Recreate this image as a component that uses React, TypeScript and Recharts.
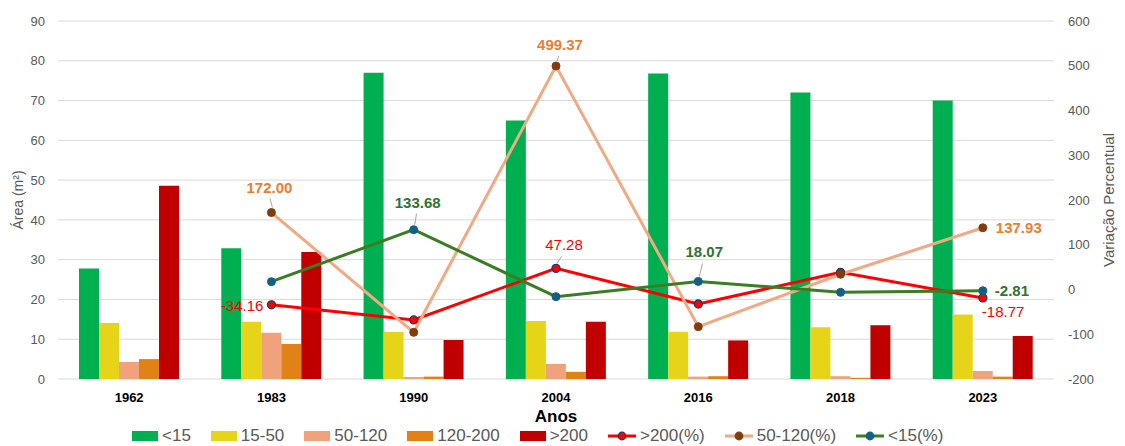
import { ComposedChart, Bar, Line, XAxis, YAxis, CartesianGrid, Legend, LabelList } from "recharts";

const years = ["1962", "1983", "1990", "2004", "2016", "2018", "2023"];

// área por classe (m²)
const areaLt15 = [27.8, 32.9, 77.0, 65.0, 76.8, 72.0, 70.0];
const area15to50 = [14.1, 14.4, 11.8, 14.6, 11.9, 13.0, 16.2];
const area50to120 = [4.3, 11.6, 0.5, 3.8, 0.6, 0.7, 2.0];
const area120to200 = [5.0, 8.8, 0.6, 1.8, 0.7, 0.3, 0.6];
const areaGt200 = [48.6, 31.9, 9.8, 14.4, 9.7, 13.5, 10.8];

// variação percentual face ao ano anterior
const pctGt200 = [null, -34.16, -68.0, 47.28, -32.4, 38.4, -18.77];
const pct50to120 = [null, 172.0, -95.7, 499.37, -83.0, 34.0, 137.93];
const pctLt15 = [null, 17.5, 133.68, -16.0, 18.07, -6.3, -2.81];

const leftTicks = [0, 10, 20, 30, 40, 50, 60, 70, 80, 90];
const rightTicks = [-200, -100, 0, 100, 200, 300, 400, 500, 600];

const data = years.map((year, i) => ({
  year,
  lt15: areaLt15[i],
  s15to50: area15to50[i],
  s50to120: area50to120[i],
  s120to200: area120to200[i],
  gt200: areaGt200[i],
  p200: pctGt200[i],
  p50: pct50to120[i],
  p15: pctLt15[i],
}));

const FONT = "'Liberation Sans', Arial, sans-serif";
const GRAY = "#595959";

const C = {
  lt15: "#00B050",
  s15to50: "#E5D418",
  s50to120: "#F0A27C",
  s120to200: "#E08216",
  gt200: "#C00000",
  p200: "#FF0000",
  p200Dot: "#1F3864",
  p50: "#F4A985",
  p50Dot: "#843C0C",
  p15: "#3A7D22",
  p15Dot: "#156082",
  lblOrange: "#ED7D31",
  lblGreen: "#2E7430",
};

type Place = { dx: number; dy: number; anchor: "start" | "middle" | "end"; leader?: boolean };

const labels200: Record<number, Place> = {
  1: { dx: -8, dy: 6, anchor: "end" },
  3: { dx: 8, dy: -18, anchor: "middle", leader: true },
  6: { dx: -1, dy: 19, anchor: "start" },
};
const labels50: Record<number, Place> = {
  1: { dx: -2, dy: -20, anchor: "middle", leader: true },
  3: { dx: 4, dy: -16, anchor: "middle", leader: true },
  6: { dx: 13, dy: 5, anchor: "start" },
};
const labels15: Record<number, Place> = {
  2: { dx: 4, dy: -22, anchor: "middle", leader: true },
  4: { dx: 6, dy: -24, anchor: "middle", leader: true },
  6: { dx: 12, dy: 5, anchor: "start" },
};

const pointLabel = (places: Record<number, Place>, color: string, bold: boolean) => (props: any) => {
  const { x, y, value, index } = props;
  const p = places[index];
  if (!p || value == null) return null;
  return (
    <g>
      {p.leader && (
        <line x1={x + p.dx * 0.7} y1={y + p.dy + 6} x2={x + 1} y2={y - 5} stroke="#A6A6A6" strokeWidth={1} />
      )}
      <text x={x + p.dx} y={y + p.dy} textAnchor={p.anchor} fill={color} fontSize={15} fontWeight={bold ? "bold" : "normal"} fontFamily={FONT}>
        {Number(value).toFixed(2)}
      </text>
    </g>
  );
};

const legendItems = [
  { name: "<15", color: C.lt15, type: "box" },
  { name: "15-50", color: C.s15to50, type: "box" },
  { name: "50-120", color: C.s50to120, type: "box" },
  { name: "120-200", color: C.s120to200, type: "box" },
  { name: ">200", color: C.gt200, type: "box" },
  { name: ">200(%)", color: C.p200, dot: C.p200, dotStroke: C.p200Dot, type: "line" },
  { name: "50-120(%)", color: C.p50, dot: C.p50Dot, dotStroke: C.p50Dot, type: "line" },
  { name: "<15(%)", color: C.p15, dot: C.p15Dot, dotStroke: C.p15Dot, type: "line" },
];

const renderLegend = () => (
  <div style={{ display: "flex", alignItems: "center", height: 20, paddingLeft: 132, fontFamily: FONT, fontSize: 17, color: GRAY }}>
    {legendItems.map((it) => (
      <div key={it.name} style={{ display: "flex", alignItems: "center", marginRight: 20 }}>
        {it.type === "box" ? (
          <div style={{ width: 26, height: 10, background: it.color, marginRight: 4 }} />
        ) : (
          <svg width={28} height={10} style={{ marginRight: 4 }}>
            <line x1={0} y1={5} x2={28} y2={5} stroke={it.color} strokeWidth={3} />
            <circle cx={14} cy={5} r={3.8} fill={it.dot} stroke={it.dotStroke} strokeWidth={1.2} />
          </svg>
        )}
        <span style={{ whiteSpace: "nowrap" }}>{it.name}</span>
      </div>
    ))}
  </div>
);

const leftTitle = (props: any) => {
  const { x, y, height } = props.viewBox;
  const cx = x + 1.5;
  const cy = y + height / 2;
  return (
    <text x={cx} y={cy} transform={`rotate(-90, ${cx}, ${cy})`} textAnchor="middle" dominantBaseline="central" fill={GRAY} fontSize={14} fontFamily={FONT}>
      Área (m²)
    </text>
  );
};

const rightTitle = (props: any) => {
  const { x, y, height } = props.viewBox;
  const cx = x + 54;
  const cy = y + height / 2;
  return (
    <text x={cx} y={cy} transform={`rotate(-90, ${cx}, ${cy})`} textAnchor="middle" dominantBaseline="central" fill={GRAY} fontSize={15} fontFamily={FONT}>
      Variação Percentual
    </text>
  );
};

export default function App() {
  return (
    <div style={{ position: "absolute", left: 0, top: 0, width: 1125, height: 446, background: "#fff", fontFamily: FONT }}>
      <ComposedChart width={1125} height={446} data={data} margin={{ top: 21, right: 20, bottom: 0, left: 16 }} barGap={0} barSize={20}>
        <CartesianGrid yAxisId="left" vertical={false} stroke="#D9D9D9" strokeWidth={1} />
        <XAxis
          dataKey="year"
          axisLine={false}
          tickLine={false}
          height={47}
          tickMargin={8}
          tick={{ fontSize: 13, fontWeight: "bold", fill: "#000", fontFamily: FONT }}
          label={{ value: "Anos", position: "insideBottom", offset: 4, fontSize: 17, fontWeight: "bold", fill: "#000", fontFamily: FONT }}
        />
        <YAxis
          yAxisId="left"
          orientation="left"
          width={42}
          domain={[0, 90]}
          ticks={leftTicks}
          axisLine={false}
          tickLine={false}
          tickMargin={7}
          tick={{ fontSize: 13, fill: GRAY, fontFamily: FONT }}
          label={{ content: leftTitle }}
        />
        <YAxis
          yAxisId="right"
          orientation="right"
          width={51}
          domain={[-200, 600]}
          ticks={rightTicks}
          axisLine={false}
          tickLine={false}
          tickMargin={8}
          tick={{ fontSize: 13, fill: GRAY, fontFamily: FONT, textAnchor: "start" }}
          label={{ content: rightTitle }}
        />
        <Legend verticalAlign="bottom" wrapperStyle={{ left: 0, width: 1125, bottom: 0 }} content={renderLegend} />

        <Bar yAxisId="left" dataKey="lt15" name="<15" fill={C.lt15} isAnimationActive={false} />
        <Bar yAxisId="left" dataKey="s15to50" name="15-50" fill={C.s15to50} isAnimationActive={false} />
        <Bar yAxisId="left" dataKey="s50to120" name="50-120" fill={C.s50to120} isAnimationActive={false} />
        <Bar yAxisId="left" dataKey="s120to200" name="120-200" fill={C.s120to200} isAnimationActive={false} />
        <Bar yAxisId="left" dataKey="gt200" name=">200" fill={C.gt200} isAnimationActive={false} />

        <Line
          yAxisId="right"
          dataKey="p200"
          name=">200(%)"
          stroke={C.p200}
          strokeWidth={3}
          dot={{ r: 4, fill: C.p200, stroke: C.p200Dot, strokeWidth: 1.3 }}
          isAnimationActive={false}
        >
          <LabelList dataKey="p200" content={pointLabel(labels200, C.p200, false)} />
        </Line>
        <Line
          yAxisId="right"
          dataKey="p50"
          name="50-120(%)"
          stroke={C.p50}
          strokeWidth={3}
          dot={{ r: 4, fill: C.p50Dot, stroke: C.p50Dot, strokeWidth: 1 }}
          isAnimationActive={false}
        >
          <LabelList dataKey="p50" content={pointLabel(labels50, C.lblOrange, true)} />
        </Line>
        <Line
          yAxisId="right"
          dataKey="p15"
          name="<15(%)"
          stroke={C.p15}
          strokeWidth={3}
          dot={{ r: 4, fill: C.p15Dot, stroke: C.p15Dot, strokeWidth: 1 }}
          isAnimationActive={false}
        >
          <LabelList dataKey="p15" content={pointLabel(labels15, C.lblGreen, true)} />
        </Line>
      </ComposedChart>
    </div>
  );
}
